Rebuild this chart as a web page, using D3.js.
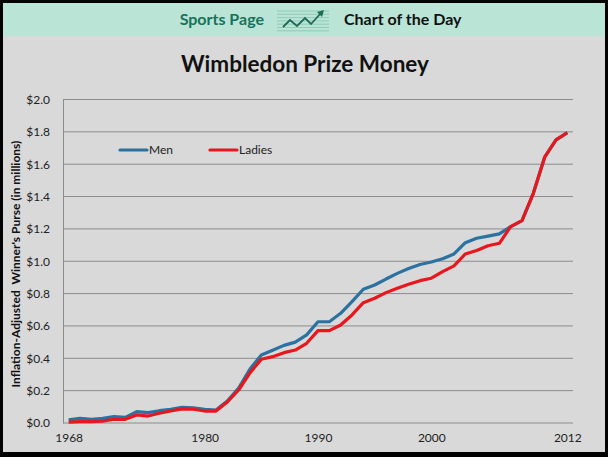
<!DOCTYPE html>
<html>
<head>
<meta charset="utf-8">
<script src="https://cdn.jsdelivr.net/npm/d3@7"></script>
<style>
  body { margin: 0; padding: 0; background: #000; }
  svg { display: block; font-family: Lato, "Open Sans", sans-serif; }
</style>
</head>
<body>
<div id="chart"></div>
<script>
// data (millions of dollars, inflation-adjusted)
let years = d3.range(1968, 2013);
let men = [0.019, 0.029, 0.023, 0.029, 0.039, 0.035, 0.070, 0.064, 0.076, 0.085,
           0.097, 0.093, 0.085, 0.080, 0.136, 0.216, 0.334, 0.420, 0.450, 0.480,
           0.500, 0.545, 0.626, 0.626, 0.678, 0.750, 0.827, 0.853, 0.890, 0.925,
           0.955, 0.980, 0.995, 1.015, 1.045, 1.115, 1.142, 1.155, 1.169, 1.214,
           1.251, 1.420, 1.643, 1.750, 1.795];
let ladies = [0.005, 0.008, 0.008, 0.012, 0.023, 0.023, 0.050, 0.043, 0.060, 0.074,
              0.087, 0.085, 0.074, 0.074, 0.130, 0.204, 0.310, 0.394, 0.410, 0.435,
              0.451, 0.493, 0.571, 0.571, 0.606, 0.668, 0.744, 0.771, 0.806, 0.833,
              0.858, 0.880, 0.895, 0.936, 0.971, 1.045, 1.066, 1.096, 1.111, 1.214,
              1.251, 1.420, 1.643, 1.750, 1.795];
let yearTicks = [1968, 1980, 1990, 2000, 2012];
let yTicks = [0, 0.2, 0.4, 0.6, 0.8, 1.0, 1.2, 1.4, 1.6, 1.8, 2.0];

let width = 608, height = 457;
let margin = {top: 99.5, right: 35, bottom: 34, left: 63};

let svg = d3.select("#chart")
    .append("svg")
    .attr("width", width)
    .attr("height", height);

// frame: black border, gray panel, teal header band
svg.append("rect").attr("width", width).attr("height", height).attr("fill", "#000");
svg.append("rect")
    .attr("x", 3).attr("y", 3)
    .attr("width", width - 6).attr("height", height - 8)
    .attr("fill", "#d9d9d9");
svg.append("rect")
    .attr("x", 3).attr("y", 3)
    .attr("width", width - 6).attr("height", 33)
    .attr("fill", "#b9e4d6");

svg.append("text")
    .attr("x", 264).attr("y", 25)
    .attr("text-anchor", "end")
    .style("font-size", "16px").style("font-weight", "bold")
    .attr("fill", "#17735a")
    .text("Sports Page");

svg.append("text")
    .attr("x", 344).attr("y", 25)
    .style("font-size", "16px").style("font-weight", "bold")
    .attr("fill", "#111")
    .text("Chart of the Day");

// little chart icon in the header
let icon = svg.append("g").attr("transform", "translate(277, 9)");
d3.range(7).forEach(function(i) {
    icon.append("line")
        .attr("x1", 0).attr("x2", 52)
        .attr("y1", 2 + i * 3.3).attr("y2", 2 + i * 3.3)
        .attr("stroke", "#86c4b0").attr("stroke-width", 0.8);
});
icon.append("path")
    .attr("d", "M6,18 L13,11 L20,17 L28,9 L34,15 L44,4")
    .attr("fill", "none").attr("stroke", "#1d6b55").attr("stroke-width", 1.8);
icon.append("path")
    .attr("d", "M47,1 L40,3 L45,8 Z")
    .attr("fill", "#1d6b55");

// chart title
svg.append("text")
    .attr("x", 305).attr("y", 72)
    .attr("text-anchor", "middle")
    .style("font-size", "22.5px").style("font-weight", "bold")
    .attr("fill", "#111")
    .text("Wimbledon Prize Money");

let x = d3.scalePoint()
    .domain(years)
    .range([margin.left, width - margin.right])
    .padding(0.5);

let y = d3.scaleLinear()
    .domain([0, 2])
    .range([height - margin.bottom, margin.top]);

// gridlines
svg.append("g")
    .selectAll("line")
    .data(yTicks)
    .enter()
    .append("line")
    .attr("x1", margin.left).attr("x2", width - margin.right)
    .attr("y1", function(d) { return y(d) }).attr("y2", function(d) { return y(d) })
    .attr("stroke", "#8c8c8c").attr("stroke-width", 1);

// y axis
let yAxis = svg.append("g")
    .attr("transform", `translate(${margin.left}, 0)`)
    .call(d3.axisLeft(y).tickValues(yTicks).tickSize(0).tickPadding(13)
        .tickFormat(function(d) { return "$" + d3.format(".1f")(d) }));
yAxis.select(".domain").attr("stroke", "#8c8c8c");
yAxis.selectAll("text")
    .style("font-size", "12px").style("font-family", "Lato, sans-serif")
    .attr("fill", "#222");

// x axis
let xAxis = svg.append("g")
    .attr("transform", `translate(0, ${height - margin.bottom})`)
    .call(d3.axisBottom(x).tickValues(yearTicks).tickSize(0).tickPadding(10));
xAxis.select(".domain").remove();
xAxis.selectAll("text")
    .style("font-size", "12px").style("font-family", "Lato, sans-serif")
    .attr("fill", "#222");

// y-axis label
svg.append("text")
    .attr("transform", `translate(20, 264) rotate(-90)`)
    .attr("text-anchor", "middle")
    .style("font-size", "12px").style("font-weight", "bold")
    .style("white-space", "pre")
    .attr("fill", "#111")
    .text("Inflation-Adjusted  Winner's Purse (in millions)");

// lines
let series = [
    {name: "Men", values: men, color: "#2c72a0"},
    {name: "Ladies", values: ladies, color: "#e8171d"}
];

let line = d3.line()
    .x(function(d, i) { return x(years[i]) })
    .y(function(d) { return y(d) });

svg.append("g")
    .selectAll("path")
    .data(series)
    .enter()
    .append("path")
    .attr("d", function(d) { return line(d.values) })
    .attr("fill", "none")
    .attr("stroke", function(d) { return d.color })
    .attr("stroke-width", 3.2)
    .attr("stroke-linejoin", "round");

// legend
let legendX = [120, 210];
let legend = svg.append("g")
    .selectAll("g")
    .data(series)
    .enter()
    .append("g")
    .attr("transform", function(d, i) { return `translate(${legendX[i]}, 150)` });
legend.append("line")
    .attr("x1", 0).attr("x2", 27)
    .attr("stroke", function(d) { return d.color })
    .attr("stroke-width", 3.2)
    .attr("stroke-linecap", "round");
legend.append("text")
    .attr("x", 29).attr("y", 4)
    .style("font-size", "12px")
    .attr("fill", "#222")
    .text(function(d) { return d.name });
</script>
</body>
</html>
